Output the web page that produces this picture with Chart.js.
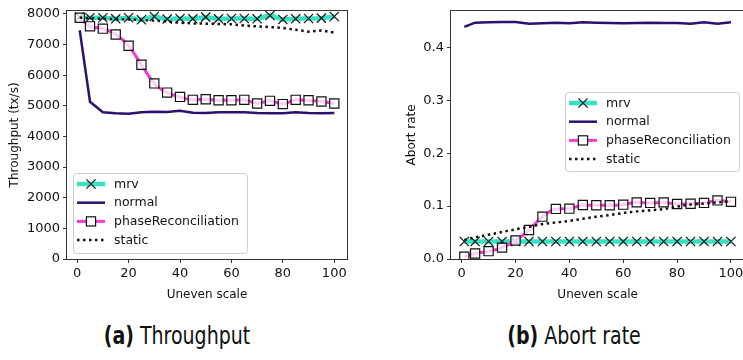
<!DOCTYPE html>
<html>
<head>
<meta charset="utf-8">
<script src="https://cdn.jsdelivr.net/npm/chart.js@4"></script>
<style>
  html, body { margin: 0; padding: 0; background: #fff; width: 743px; height: 360px; overflow: hidden; }
  #wrap { position: relative; width: 743px; height: 360px; overflow: hidden; }
  canvas { position: absolute; top: 0; }
  #chart-throughput { left: 0; }
  #chart-abort { left: 372px; }
  .caption {
    position: absolute; top: 323px; transform: translateX(-50%) scaleX(0.88); white-space: nowrap;
    font-family: 'Liberation Sans Narrow', 'DejaVu Sans Condensed', sans-serif;
    font-size: 24px; line-height: 26px; color: #111;
  }
  .caption b { font-weight: bold; }
</style>
</head>
<body>
<div id="wrap">
  <canvas id="chart-throughput" width="372" height="310"></canvas>
  <canvas id="chart-abort" width="380" height="310"></canvas>
  <div class="caption" style="left:177px"><b>(a)</b> Throughput</div>
  <div class="caption" style="left:574px"><b>(b)</b> Abort rate</div>
</div>
<script>
// Eixo x (Uneven scale)
const unevenScale = [1, 5, 10, 15, 20, 25, 30, 35, 40, 45, 50, 55, 60, 65, 70, 75, 80, 85, 90, 95, 100];
const xTicks = [0, 20, 40, 60, 80, 100];
const throughputTicks = [0, 1000, 2000, 3000, 4000, 5000, 6000, 7000, 8000];
const abortTicks = [0, 0.1, 0.2, 0.3, 0.4];

const seriesNames = ['mrv', 'normal', 'phaseReconciliation', 'static'];

// Throughput (tx/s)
const mrvThroughput = [7893, 7872, 7872, 7839, 7872, 7807, 7914, 7829, 7850, 7839, 7893, 7839, 7850, 7850, 7839, 7946, 7818, 7839, 7850, 7861, 7914];
const normalThroughput = [7464, 5131, 4787, 4755, 4744, 4787, 4809, 4800, 4840, 4770, 4766, 4787, 4787, 4787, 4766, 4755, 4755, 4787, 4766, 4755, 4766];
const phaseThroughput = [7872, 7593, 7518, 7325, 6961, 6340, 5730, 5430, 5290, 5194, 5215, 5183, 5183, 5194, 5076, 5162, 5055, 5194, 5183, 5140, 5076];
const staticThroughput = [7880, 7860, 7840, 7830, 7820, 7800, 7780, 7750, 7710, 7690, 7680, 7670, 7660, 7620, 7590, 7570, 7540, 7480, 7420, 7460, 7390];

// Abort rate
const mrvAbort = [0.033, 0.033, 0.033, 0.033, 0.033, 0.033, 0.033, 0.033, 0.033, 0.033, 0.033, 0.033, 0.033, 0.033, 0.033, 0.033, 0.033, 0.033, 0.033, 0.033, 0.033];
const normalAbort = [0.4386, 0.4465, 0.4472, 0.4478, 0.4478, 0.4447, 0.4454, 0.4466, 0.4454, 0.4472, 0.4466, 0.446, 0.4454, 0.446, 0.4466, 0.446, 0.446, 0.4447, 0.4472, 0.4447, 0.4472];
const phaseAbort = [0.0043, 0.0105, 0.0148, 0.0215, 0.035, 0.0547, 0.080, 0.0947, 0.0951, 0.102, 0.1015, 0.1016, 0.1027, 0.107, 0.106, 0.107, 0.104, 0.1045, 0.106, 0.1107, 0.108];
const staticAbort = [0.036, 0.041, 0.046, 0.051, 0.056, 0.061, 0.066, 0.069, 0.072, 0.076, 0.080, 0.083, 0.087, 0.090, 0.092, 0.094, 0.099, 0.103, 0.105, 0.107, 0.109];

const COLORS = {
    mrv: '#36e2c4',
    normal: '#2d1070',
    phase: '#f53bd0',
    static: '#111111',
    axis: '#333333',
    text: '#111111'
};
const TICK_FONT = { family: 'DejaVu Sans', size: 13 };
const LABEL_FONT = { family: 'DejaVu Sans', size: 12 };
const LEGEND_FONT = '12.5px "DejaVu Sans"';

function toPoints(values) {
    return unevenScale.map((x, i) => ({ x: x, y: values[i] }));
}

function buildDatasets(mrv, normal, phase, stat) {
    return [
        {
            label: seriesNames[0], data: toPoints(mrv), order: 4,
            borderColor: COLORS.mrv, borderWidth: 4.5, cubicInterpolationMode: 'monotone',
            pointStyle: 'crossRot', pointRadius: 6.5, pointBorderColor: COLORS.text,
            pointBorderWidth: 1.2, pointBackgroundColor: 'transparent'
        },
        {
            label: seriesNames[1], data: toPoints(normal), order: 3,
            borderColor: COLORS.normal, borderWidth: 2.5, pointRadius: 0, tension: 0
        },
        {
            label: seriesNames[2], data: toPoints(phase), order: 2,
            borderColor: COLORS.phase, borderWidth: 3, cubicInterpolationMode: 'monotone',
            pointStyle: 'rect', pointRadius: 6.5, pointBorderColor: COLORS.text,
            pointBorderWidth: 1.2, pointBackgroundColor: 'rgba(255,255,255,0.75)'
        },
        {
            label: seriesNames[3], data: toPoints(stat), order: 1,
            borderColor: COLORS.static, borderWidth: 2.5, borderDash: [2.5, 3.5],
            borderCapStyle: 'butt', pointRadius: 0, tension: 0
        }
    ];
}

// Moldura completa do gráfico (estilo matplotlib)
const framePlugin = {
    id: 'frame',
    afterDatasetsDraw(chart) {
        const { ctx, chartArea } = chart;
        ctx.save();
        ctx.strokeStyle = COLORS.axis;
        ctx.lineWidth = 1;
        ctx.strokeRect(Math.round(chartArea.left) - 0.5, Math.round(chartArea.top) - 0.5,
            Math.round(chartArea.width) + 1, Math.round(chartArea.height) + 1);
        ctx.restore();
    }
};

function drawMarker(ctx, ds, cx, cy) {
    if (!ds.pointRadius) return;
    const r = ds.pointRadius;
    ctx.save();
    ctx.setLineDash([]);
    ctx.lineWidth = ds.pointBorderWidth;
    ctx.strokeStyle = ds.pointBorderColor;
    if (ds.pointStyle === 'crossRot') {
        const d = r * Math.SQRT1_2;
        ctx.beginPath();
        ctx.moveTo(cx - d, cy - d); ctx.lineTo(cx + d, cy + d);
        ctx.moveTo(cx - d, cy + d); ctx.lineTo(cx + d, cy - d);
        ctx.stroke();
    } else if (ds.pointStyle === 'rect') {
        const s = r * Math.SQRT1_2;
        ctx.fillStyle = '#ffffff';
        ctx.fillRect(cx - s, cy - s, 2 * s, 2 * s);
        ctx.strokeRect(cx - s, cy - s, 2 * s, 2 * s);
    }
    ctx.restore();
}

// Legenda dentro da área do gráfico
const legendPlugin = {
    id: 'insideLegend',
    afterDraw(chart, args, opts) {
        const ctx = chart.ctx;
        const { x, y, width, height, firstRow, rowGap } = opts;
        ctx.save();
        ctx.fillStyle = 'rgba(255,255,255,0.85)';
        ctx.strokeStyle = '#cccccc';
        ctx.lineWidth = 1;
        ctx.beginPath();
        ctx.roundRect(x + 0.5, y + 0.5, width, height, 3);
        ctx.fill();
        ctx.stroke();

        const datasets = [...chart.data.datasets].sort((a, b) => seriesNames.indexOf(a.label) - seriesNames.indexOf(b.label));
        datasets.forEach((ds, i) => {
            const cy = y + firstRow + i * rowGap;
            ctx.save();
            ctx.strokeStyle = ds.borderColor;
            ctx.lineWidth = ds.borderWidth;
            ctx.setLineDash(ds.borderDash || []);
            ctx.lineCap = 'butt';
            ctx.beginPath();
            ctx.moveTo(x + 4, cy);
            ctx.lineTo(x + 32, cy);
            ctx.stroke();
            ctx.restore();
            drawMarker(ctx, ds, x + 18, cy);

            ctx.fillStyle = COLORS.text;
            ctx.font = LEGEND_FONT;
            ctx.textBaseline = 'middle';
            ctx.textAlign = 'left';
            ctx.fillText(ds.label, x + 41, cy + 0.5);
        });
        ctx.restore();
    }
};

function makeChart(canvasId, cfg) {
    const ctx = document.getElementById(canvasId).getContext('2d');
    return new Chart(ctx, {
        type: 'line',
        data: { datasets: cfg.datasets },
        options: {
            responsive: false,
            animation: false,
            events: [],
            layout: { padding: cfg.padding },
            plugins: {
                legend: { display: false },
                tooltip: { enabled: false },
                insideLegend: cfg.legend
            },
            scales: {
                x: {
                    type: 'linear',
                    min: -3.95,
                    max: 104.95,
                    afterBuildTicks: s => { s.ticks = xTicks.map(v => ({ value: v })); },
                    afterFit: s => { s.height = cfg.xAxisHeight; },
                    grid: { drawOnChartArea: false, drawTicks: true, tickLength: 4, color: COLORS.axis },
                    border: { display: false },
                    ticks: { font: TICK_FONT, color: COLORS.text, padding: 3, maxRotation: 0 },
                    title: { display: true, text: 'Uneven scale', font: LABEL_FONT, color: COLORS.text, padding: { top: 0, bottom: cfg.xTitlePad } }
                },
                y: {
                    type: 'linear',
                    min: cfg.yMin,
                    max: cfg.yMax,
                    afterBuildTicks: s => { s.ticks = cfg.yTicks.map(v => ({ value: v })); },
                    afterFit: s => { s.width = cfg.yAxisWidth; },
                    grid: { drawOnChartArea: false, drawTicks: true, tickLength: 4, color: COLORS.axis },
                    border: { display: false },
                    ticks: { font: TICK_FONT, color: COLORS.text, padding: 3, callback: cfg.yFormat },
                    title: { display: true, text: cfg.yTitle, font: LABEL_FONT, color: COLORS.text, padding: { top: cfg.yTitlePad, bottom: 0 } }
                }
            }
        },
        plugins: [framePlugin, legendPlugin]
    });
}

makeChart('chart-throughput', {
    datasets: buildDatasets(mrvThroughput, normalThroughput, phaseThroughput, staticThroughput),
    padding: { left: 0, top: 7, right: 25, bottom: 0 },
    xAxisHeight: 51,
    xTitlePad: 8,
    yAxisWidth: 67,
    yTitlePad: 8,
    yMin: 0,
    yMax: 8100,
    yTicks: throughputTicks,
    yTitle: 'Throughput (tx/s)',
    yFormat: v => String(v),
    legend: { x: 73, y: 173, width: 174, height: 80, firstRow: 11, rowGap: 18.7 }
});

makeChart('chart-abort', {
    datasets: buildDatasets(mrvAbort, normalAbort, phaseAbort, staticAbort),
    padding: { left: 0, top: 5, right: 7.6, bottom: 0 },
    xAxisHeight: 51,
    xTitlePad: 8,
    yAxisWidth: 79,
    yTitlePad: 33,
    yMin: 0,
    yMax: 0.469,
    yTicks: abortTicks,
    yTitle: 'Abort rate',
    yFormat: v => v.toFixed(1),
    legend: { x: 193, y: 92, width: 174, height: 79, firstRow: 11, rowGap: 18.7 }
});
</script>
</body>
</html>
